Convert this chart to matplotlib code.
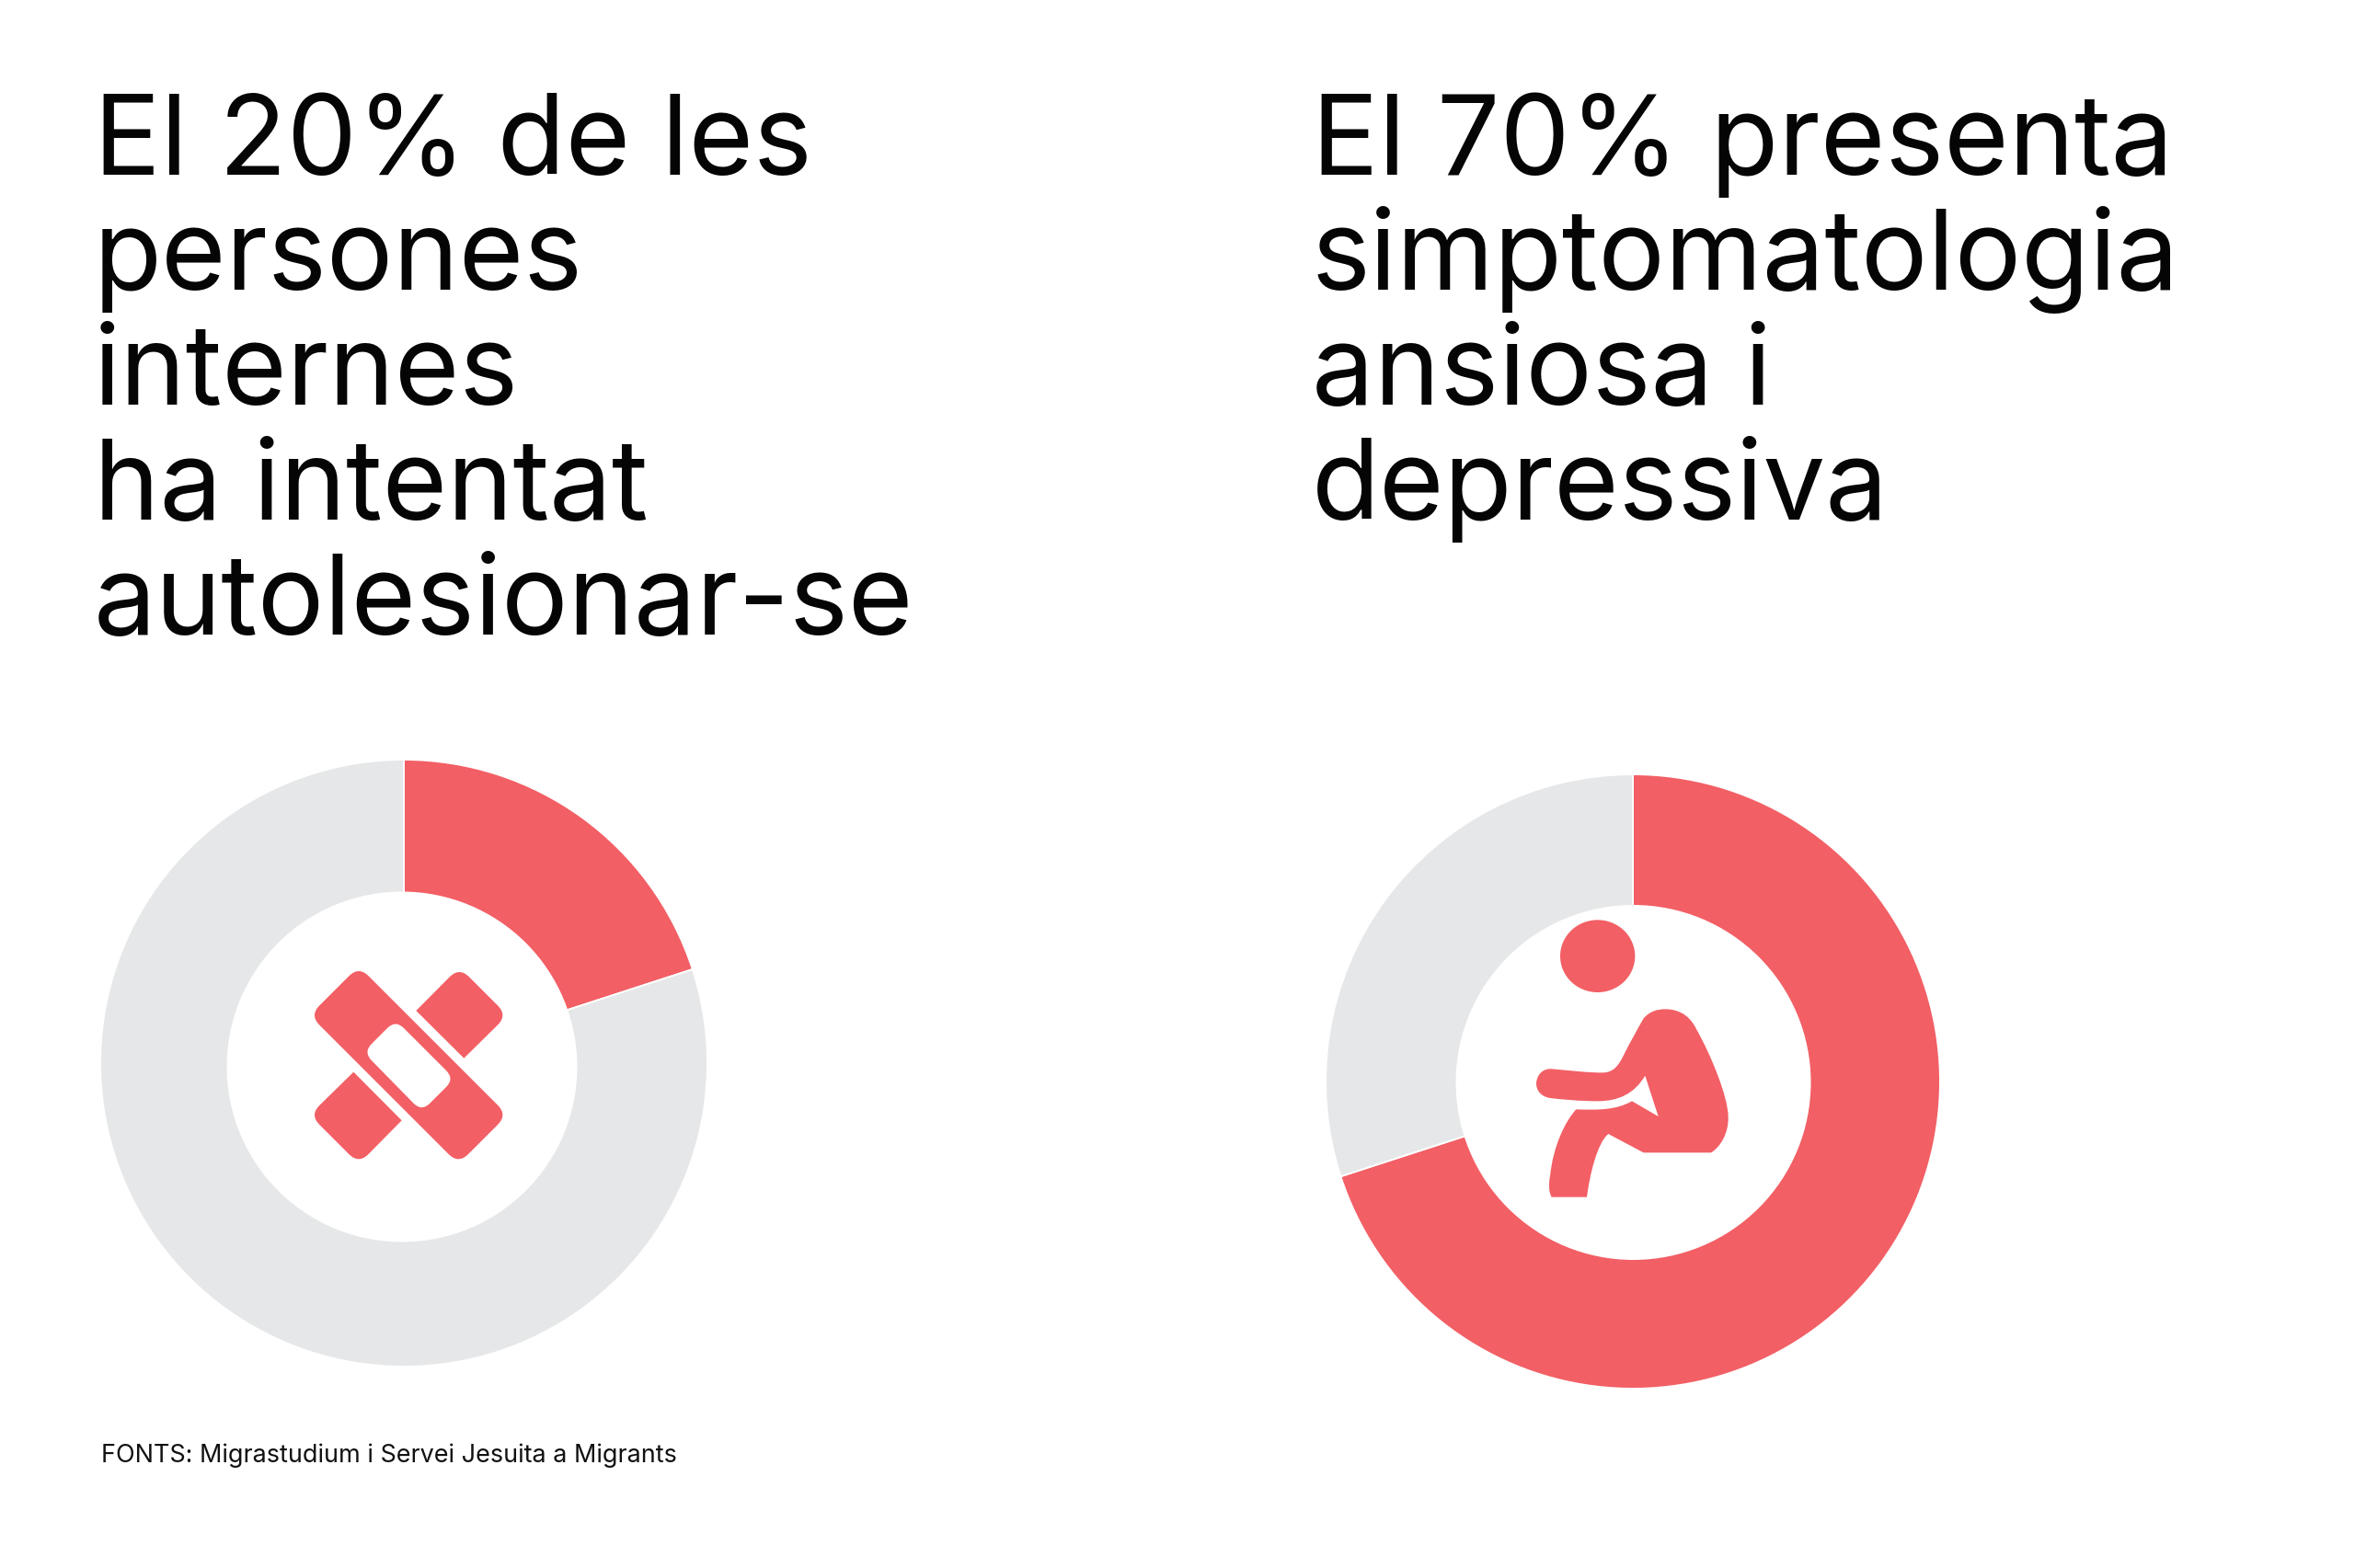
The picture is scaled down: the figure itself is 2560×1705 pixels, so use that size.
import matplotlib
matplotlib.use("Agg")
import matplotlib.pyplot as plt
from matplotlib.path import Path
from matplotlib.patches import PathPatch, Circle, Ellipse

W, H = 2560, 1706
RED = "#F25F65"
GREY = "#E6E7E8"

left_title = ["El 20% de les", "persones", "internes", "ha intentat", "autolesionar-se"]
right_title = ["El 70% presenta", "simptomatologia", "ansiosa i", "depressiva"]
source = "FONTS: Migrastudium i Servei Jesuita a Migrants"
left_values = [20, 80]
right_values = [70, 30]

fig = plt.figure(figsize=(W / 200, H / 200), dpi=200, facecolor="white")


def donut(values, colors, cx, cy, R, hx, hy, r):
    ax = fig.add_axes([(cx - R) / W, 1 - (cy + R) / H, 2 * R / W, 2 * R / H])
    ax.pie(values, colors=colors, startangle=90, counterclock=False, radius=1,
           wedgeprops=dict(edgecolor="white", linewidth=0.7))
    ax.set_xlim(-1, 1)
    ax.set_ylim(-1, 1)
    ax.add_patch(Circle(((hx - cx) / R, (cy - hy) / R), r / R, fc="white", ec="none", zorder=5, clip_on=False))
    ax.axis("off")


donut(left_values, [RED, GREY], 439, 1157, 330, 437, 1161, 190.5)
donut(right_values, [RED, GREY], 1775, 1177, 334, 1775.5, 1178, 193)

ov = fig.add_axes([0, 0, 1, 1], facecolor="none")
ov.set_xlim(0, W)
ov.set_ylim(H, 0)
ov.axis("off")

TITLE_FONT = ["Inter", "DejaVu Sans"]
TITLE_SIZE = 43.5
for i, line in enumerate(left_title):
    ov.text(102, 190 + i * 125, line, fontsize=TITLE_SIZE, family=TITLE_FONT, weight="regular", va="baseline", ha="left", color="#050505")
for i, line in enumerate(right_title):
    ov.text(1426, 190 + i * 125, line, fontsize=TITLE_SIZE, family=TITLE_FONT, weight="regular", va="baseline", ha="left", color="#050505")
ov.text(110, 1590, source, fontsize=9.72, family=TITLE_FONT, va="baseline", ha="left", color="#111111")


def rounded(points, radii, ox, oy, s=1 / 3):
    n = len(points)
    verts, codes = [], []
    for i in range(n):
        p = points[i]
        a = points[i - 1]
        b = points[(i + 1) % n]
        r = radii[i]
        if r == 0:
            verts.append(p)
            codes.append(Path.MOVETO if i == 0 else Path.LINETO)
            continue
        la = ((a[0] - p[0]) ** 2 + (a[1] - p[1]) ** 2) ** 0.5
        lb = ((b[0] - p[0]) ** 2 + (b[1] - p[1]) ** 2) ** 0.5
        s1 = (p[0] + (a[0] - p[0]) * r / la, p[1] + (a[1] - p[1]) * r / la)
        s2 = (p[0] + (b[0] - p[0]) * r / lb, p[1] + (b[1] - p[1]) * r / lb)
        verts += [s1, p, s2]
        codes += [Path.MOVETO if i == 0 else Path.LINETO, Path.CURVE3, Path.CURVE3]
    verts.append(verts[0])
    codes.append(Path.CLOSEPOLY)
    return [(ox + x * s, oy + y * s) for x, y in verts], codes


def add_shape(verts, codes, color, z=10):
    ov.add_patch(PathPatch(Path(verts, codes), fc=color, ec="none", zorder=z))


# Bandage icon (crop coordinates at 3x)
OX, OY = 320, 1030
R0 = 45
add_shape(*rounded([(50, 225), (210, 65), (695, 550), (535, 710)], [R0] * 4, OX, OY), RED)
add_shape(*rounded([(225, 345), (330, 240), (522, 432), (415, 539)], [38] * 4, OX, OY), "white", 11)
add_shape(*rounded([(397, 210), (538, 68), (695, 225), (553, 365)], [0, R0, R0, 0], OX, OY), RED)
add_shape(*rounded([(50, 550), (193, 410), (350, 568), (210, 710)], [R0, 0, 0, R0], OX, OY), RED)

# Seated person icon (crop coordinates at 3x)
PX, PY = 1640, 980
ov.add_patch(Ellipse((PX + 290 / 3, PY + 182 / 3), 244 / 3, 236 / 3, fc=RED, ec="none", zorder=10))
segments = [
    ("M", (510, 355)),
    ("C", (565, 355), (595, 385), (612, 420)),
    ("C", (660, 505), (715, 640), (716, 705)),
    ("C", (718, 760), (690, 805), (660, 823)),
    ("L", (440, 823)),
    ("L", (325, 762)),
    ("C", (290, 790), (265, 890), (255, 968)),
    ("L", (140, 968)),
    ("C", (130, 950), (130, 925), (135, 900)),
    ("C", (145, 800), (185, 720), (220, 682)),
    ("C", (290, 684), (350, 685), (402, 655)),
    ("L", (488, 705)),
    ("L", (445, 572)),
    ("C", (410, 630), (360, 655), (290, 655)),
    ("C", (230, 655), (180, 650), (135, 645)),
    ("C", (105, 640), (90, 620), (90, 597)),
    ("C", (92, 565), (115, 548), (140, 550)),
    ("C", (200, 555), (260, 563), (310, 562)),
    ("C", (345, 560), (360, 535), (375, 505)),
    ("C", (395, 465), (420, 420), (440, 385)),
    ("C", (460, 362), (485, 355), (510, 355)),
]
verts, codes = [], []
for seg in segments:
    kind, pts = seg[0], seg[1:]
    for j, pt in enumerate(pts):
        verts.append((PX + pt[0] / 3, PY + pt[1] / 3))
        codes.append({"M": Path.MOVETO, "L": Path.LINETO, "C": Path.CURVE4}[kind])
verts.append(verts[0])
codes.append(Path.CLOSEPOLY)
add_shape(verts, codes, RED)

fig.savefig("out.png", dpi=200, facecolor="white")
